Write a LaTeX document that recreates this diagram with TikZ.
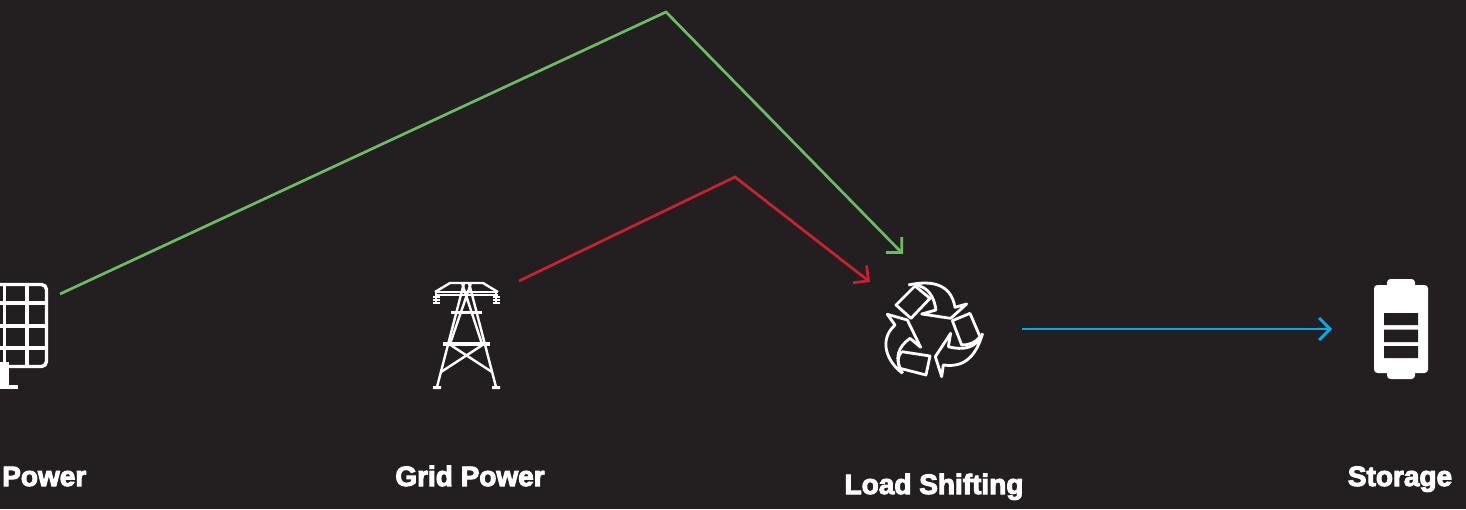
\documentclass[tikz,border=0pt]{standalone}
\usepackage{fontspec}
\setmainfont{Liberation Sans}[BoldFeatures={FakeBold=3.5}]
\usetikzlibrary{arrows.meta}
\definecolor{bgdark}{HTML}{231F20}
\definecolor{lgreen}{HTML}{6ABD61}
\definecolor{lred}{HTML}{C9222B}
\definecolor{lblue}{HTML}{00AEEF}
\tikzset{
  flow/.style={line width=2.7pt,-{Straight Barb[length=11pt,width=22pt,line width=2.7pt]}},
  lbl/.style={text=white,font=\bfseries\fontsize{28}{32}\selectfont,inner sep=0pt,anchor=base},
  icon/.style={draw=white,line width=3.2pt,line join=round},
  thin icon/.style={draw=white,line width=2.4pt,line join=miter},
  recy/.style={draw=white,line width=2.8pt,line join=round},
  anchorpt/.style={inner sep=0pt,minimum size=0pt}
}
\begin{document}
\begin{tikzpicture}[x=1pt,y=-1pt]
\useasboundingbox[fill=bgdark] (0,0) rectangle (1466,509);
% solar panel
\begin{scope}
\clip (0,270) rectangle (60,395);
\draw[icon,line width=3.4pt,rounded corners=5pt] (-20,284.5) -- (46.5,284.5) -- (46.5,366.5) -- (-20,366.5);
\foreach \x in {4.5,27}{\draw[icon] (\x,284) -- (\x,366);}
\foreach \y in {303,326,348}{\draw[icon] (-5,\y) -- (46,\y);}
\fill[white] (0,362) rectangle (9,385);
\fill[white] (0,385) rectangle (18,389);
\end{scope}
\node[anchorpt] (solar) at (60,294) {};
% tower
\draw[thin icon] (435,292) -- (450,283) -- (483,283) -- (498,292);
\draw[thin icon,line width=1.8pt] (435,292) -- (498,292) (435,295) -- (498,295);
\foreach \x in {436,496}{
  \draw[thin icon,line width=1.6pt] (\x,292) -- (\x,303);
  \draw[thin icon,line width=1.4pt] (\x-3.5,297) -- (\x+3.5,297) (\x-3.5,300) -- (\x+3.5,300) (\x-3.5,303) -- (\x+3.5,303);
}
\draw[thin icon] (464,283) -- (437,387) (469,283) -- (496,387);
\draw[thin icon] (462,283) -- (482,344) (471,283) -- (450,344);
\draw[thin icon] (449,344) -- (492,372) (484,344) -- (441,372);
\draw[white,line width=3.4pt] (451,312.5) -- (482,312.5);
\draw[white,line width=3.4pt] (443,344) -- (490,344);
\fill[white] (433,386) rectangle (441,389) (492,386) rectangle (500,389);
\node[anchorpt] (grid) at (519,281) {};
% recycle
\begin{scope}[shift={(860,230)},x=0.3333pt,y=-0.3333pt]
\draw[recy] (108,225) -- (165,168) -- (210,205) -- (153,265) -- cycle;
\draw[recy] (145,165) .. controls (205,152) and (272,155) .. (285,232) -- (320,222) -- (272,265) -- (185,252) -- (228,240) .. controls (222,200) and (205,170) .. (165,165);
\draw[recy] (277,272) -- (330,250) -- (360,320) .. controls (345,340) and (325,345) .. (305,345) -- cycle;
\draw[recy] (368,310) .. controls (350,370) and (320,415) .. (250,405) -- (245,440) -- (226,380) -- (272,310) -- (265,350) .. controls (310,362) and (350,355) .. (368,310);
\draw[recy] (125,365) -- (210,378) -- (198,435) -- (120,415) .. controls (112,395) and (112,380) .. (125,365);
\draw[recy] (128,430) .. controls (80,395) and (55,330) .. (105,285) -- (82,253) -- (142,270) -- (182,352) -- (150,325) .. controls (115,350) and (100,385) .. (128,430);
\end{scope}
\node[anchorpt] (loadin) at (1022,329) {};
% battery
\fill[white,rounded corners=3.5pt] (1387,288) -- (1387,279) -- (1415,279) -- (1415,288) -- cycle;
\fill[white,rounded corners=3.5pt] (1387,370) -- (1387,379) -- (1415,379) -- (1415,370) -- cycle;
\fill[white,rounded corners=3.5pt] (1374,285) rectangle (1428,373);
\fill[bgdark] (1384,313) rectangle (1418,325) (1384,329.5) rectangle (1418,342) (1384,346) rectangle (1418,358);
% connector ends
\coordinate (gtop) at (666,12);
\coordinate (gend) at (903,254);
\coordinate (rtop) at (735,177);
\coordinate (rend) at (870,282);
\coordinate (bend) at (1332,329);
\draw[flow,draw=lgreen] (solar.center) -- (gtop) -- (gend);
\draw[flow,draw=lred] (grid.center) -- (rtop) -- (rend);
\draw[flow,draw=lblue] (loadin.center) -- (bend);
% labels
\node[lbl,anchor=base west] (l1) at (2,486) {Power};
\node[lbl] (l2) at (470,486) {Grid Power};
\node[lbl] (l3) at (934,494) {Load Shifting};
\node[lbl] (l4) at (1400,486) {Storage};
\end{tikzpicture}
\end{document}
